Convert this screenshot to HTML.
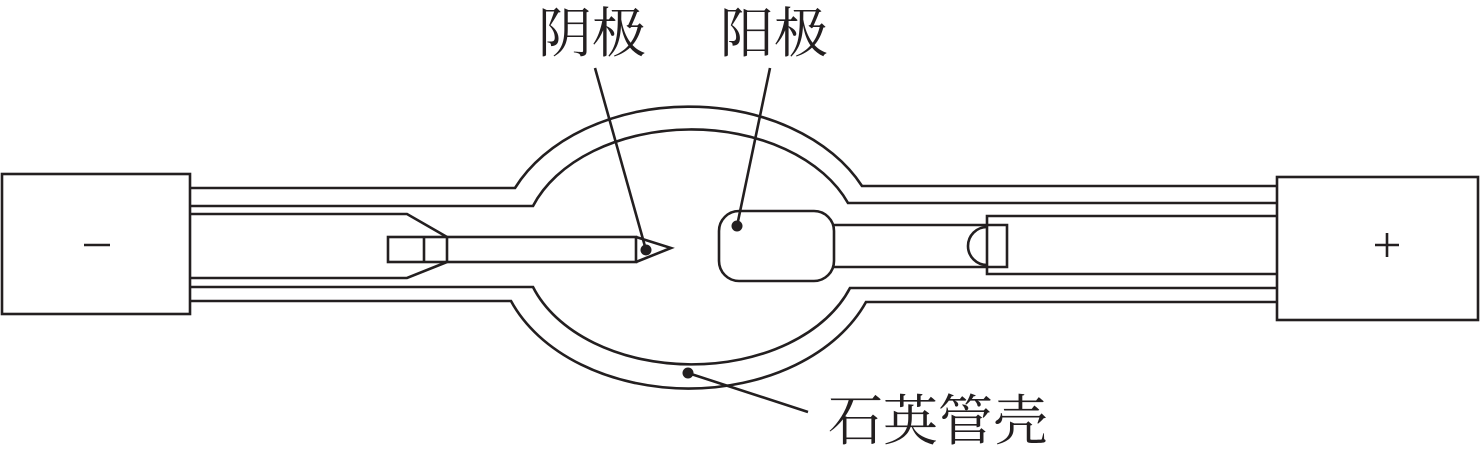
<!DOCTYPE html>
<html><head><meta charset="utf-8"><style>
html,body{margin:0;padding:0;background:#fff;}
svg{display:block;}
text{font-family:"Liberation Serif","Noto Serif CJK SC",serif;fill:#231f20;}
</style></head><body>
<svg width="1480" height="457" viewBox="0 0 1480 457" xmlns="http://www.w3.org/2000/svg">
<g fill="none" stroke="#231f20" stroke-width="2.6">
<rect x="2" y="174" width="188" height="140"/>
<rect x="1277" y="177" width="201" height="143"/>
<path d="M190 188 H515 A191 138 0 0 1 862 186 H1277"/>
<path d="M190 206 H533 A168 115 0 0 1 848 203 H1277"/>
<path d="M190 287 H533 A168 115 0 0 0 850 288 H1277"/>
<path d="M190 301 H511 A191 138 0 0 0 866 302 H1277"/>
<path d="M190 214 H407 L447 237"/>
<path d="M190 278 H407 L447 262"/>
<rect x="388" y="237" width="248" height="25"/>
<line x1="424" y1="237" x2="424" y2="262"/>
<line x1="447" y1="237" x2="447" y2="262"/>
<path d="M636 237 L671 248 L636 262"/>
<rect x="719" y="211" width="115" height="70" rx="20"/>
<path d="M834 225 H1007 V267 H834"/>
<path d="M987 227 A19 19 0 0 0 987 265"/>
<path d="M1277 216 H987 V274 H1277"/>
<line x1="595" y1="68" x2="646" y2="250"/>
<line x1="770" y1="68" x2="737" y2="226"/>
<line x1="688" y1="373" x2="808" y2="412"/>
<line x1="84" y1="245" x2="110" y2="245"/>
<line x1="1375" y1="245" x2="1399" y2="245"/>
<line x1="1387" y1="233" x2="1387" y2="257"/>
</g>
<g fill="#231f20">
<circle cx="646" cy="250" r="5.5"/>
<circle cx="737" cy="226" r="5.5"/>
<circle cx="688" cy="373" r="5.5"/>
</g>
<text x="538" y="52" font-size="54">阴极</text>
<text x="720" y="52" font-size="54">阳极</text>
<text x="828" y="440" font-size="55">石英管壳</text>
</svg>
</body></html>
